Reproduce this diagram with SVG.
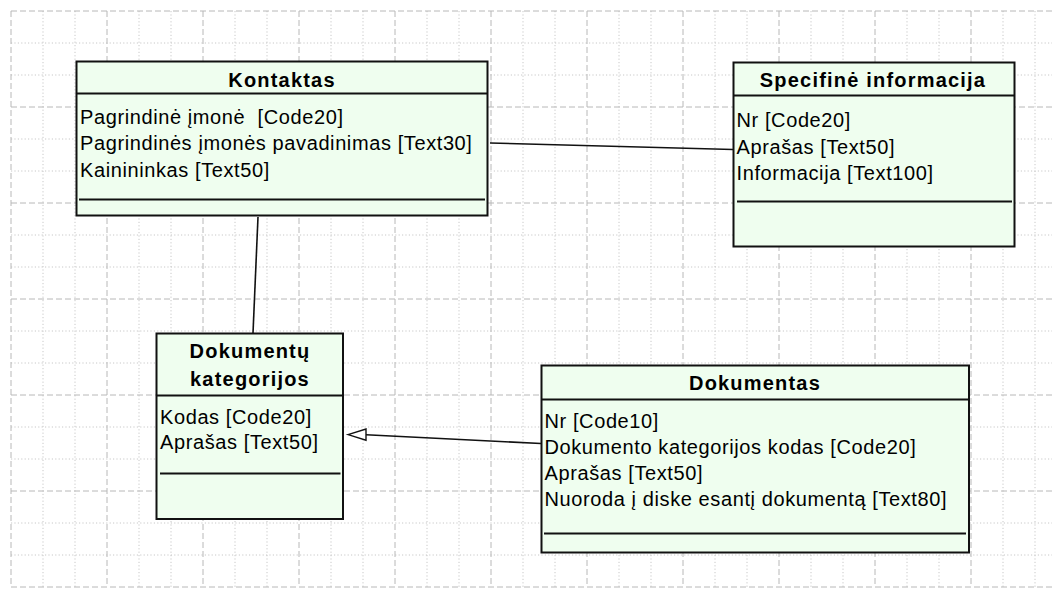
<svg xmlns="http://www.w3.org/2000/svg" width="1058" height="592" viewBox="0 0 1058 592">
<style>
.major{fill:none;stroke:#b8b8b8;stroke-width:1;stroke-dasharray:6 3}
.minor{fill:none;stroke:#c8c8c8;stroke-width:1;stroke-dasharray:1.2 2.2}
.box{fill:#effeef;stroke:#111;stroke-width:2}
.sep{stroke:#111;stroke-width:2}
.title{font-family:"Liberation Sans",Arial,sans-serif;font-size:20px;font-weight:bold;letter-spacing:1.2px;fill:#000;text-anchor:middle}
.row{font-family:"Liberation Sans",Arial,sans-serif;font-size:20px;letter-spacing:0.6px;fill:#000}
.conn{fill:none;stroke:#111;stroke-width:1.6}
</style>
<rect width="1058" height="592" fill="#ffffff"/>
<g id="grid">
<path class="minor" d="M43 11V587M75 11V587M139 11V587M171 11V587M235 11V587M267 11V587M331 11V587M363 11V587M427 11V587M459 11V587M523 11V587M555 11V587M619 11V587M651 11V587M715 11V587M747 11V587M811 11V587M843 11V587M907 11V587M939 11V587M1003 11V587M1035 11V587"/>
<path class="minor" d="M11 43H1052M11 75H1052M11 139H1052M11 171H1052M11 235H1052M11 267H1052M11 331H1052M11 363H1052M11 427H1052M11 459H1052M11 523H1052M11 555H1052"/>
<path class="major" d="M11 11V587M107 11V587M203 11V587M299 11V587M395 11V587M491 11V587M587 11V587M683 11V587M779 11V587M875 11V587M971 11V587"/>
<path class="major" d="M11 11H1052M11 107H1052M11 203H1052M11 299H1052M11 395H1052M11 491H1052M11 587H1052"/>
</g>
<g id="connectors">
<line class="conn" x1="490" y1="143" x2="733" y2="149.5"/>
<line class="conn" x1="258" y1="217" x2="253" y2="333"/>
<line class="conn" x1="366" y1="434.8" x2="541" y2="443.5"/>
<polygon points="348,434.6 366,429 366,440.2" fill="#ffffff" stroke="#111" stroke-width="1.4"/>
</g>
<g id="kontaktas">
<rect class="box" x="76.5" y="61.5" width="411" height="154"/>
<line class="sep" x1="76.5" y1="93.5" x2="487.5" y2="93.5"/>
<text class="title" x="282" y="87">Kontaktas</text>
<text class="row" x="80" y="123.5" xml:space="preserve">Pagrindinė įmonė  [Code20]</text>
<text class="row" x="80" y="150">Pagrindinės įmonės pavadinimas [Text30]</text>
<text class="row" x="80" y="176.5">Kainininkas [Text50]</text>
<line class="sep" x1="79" y1="199.5" x2="485" y2="199.5"/>
</g>
<g id="specifine">
<rect class="box" x="733.5" y="62.5" width="281" height="184"/>
<line class="sep" x1="733.5" y1="95.5" x2="1014.5" y2="95.5"/>
<text class="title" x="873" y="87">Specifinė informacija</text>
<text class="row" x="736.5" y="127">Nr [Code20]</text>
<text class="row" x="736.5" y="153.5">Aprašas [Text50]</text>
<text class="row" x="736.5" y="180">Informacija [Text100]</text>
<line class="sep" x1="737" y1="201.5" x2="1012" y2="201.5"/>
</g>
<g id="dokumentu-kategorijos">
<rect class="box" x="156.5" y="333.5" width="186.5" height="185.5"/>
<line class="sep" x1="156.5" y1="395.5" x2="343" y2="395.5"/>
<text class="title" x="250" y="358">Dokumentų</text>
<text class="title" x="250" y="386">kategorijos</text>
<text class="row" x="160" y="423.5">Kodas [Code20]</text>
<text class="row" x="160" y="449">Aprašas [Text50]</text>
<line class="sep" x1="160" y1="473.5" x2="340.5" y2="473.5"/>
</g>
<g id="dokumentas">
<rect class="box" x="541.5" y="365.5" width="427.5" height="187"/>
<line class="sep" x1="541.5" y1="399.5" x2="969" y2="399.5"/>
<text class="title" x="755" y="390">Dokumentas</text>
<text class="row" x="544.5" y="428">Nr [Code10]</text>
<text class="row" x="544.5" y="454">Dokumento kategorijos kodas [Code20]</text>
<text class="row" x="544.5" y="480">Aprašas [Text50]</text>
<text class="row" x="544.5" y="506">Nuoroda į diske esantį dokumentą [Text80]</text>
<line class="sep" x1="544" y1="533.5" x2="966" y2="533.5"/>
</g>
</svg>
